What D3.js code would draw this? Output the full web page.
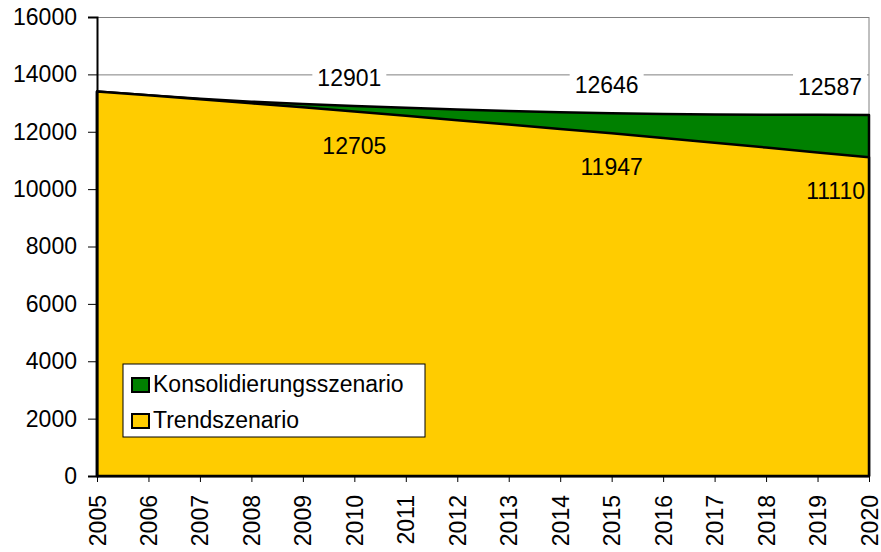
<!DOCTYPE html>
<html>
<head>
<meta charset="utf-8">
<script src="https://cdn.jsdelivr.net/npm/d3@7"></script>
<style>
	body { margin: 0; background: #fff; }
	svg { display: block; font-family: Arial, "Liberation Sans", sans-serif; }
	.axis text { font-size: 23px; fill: #000; }
	.axis path, .axis line { stroke: #000; }
	.grid line { stroke: #808080; stroke-width: 1; }
	.grid path { display: none; }
	.value { font-size: 23px; fill: #000; }
	.legend text { font-size: 23px; fill: #000; }
</style>
</head>
<body>
<div id="chart"></div>
<script>
let years		= ["2005", "2006", "2007", "2008", "2009", "2010", "2011", "2012", "2013", "2014", "2015", "2016", "2017", "2018", "2019", "2020"];
let konsol		= [13400, 13270, 13150, 13050, 12970, 12901, 12835, 12775, 12720, 12680, 12646, 12620, 12605, 12595, 12590, 12587];
let trend		= [13400, 13270, 13130, 12990, 12850, 12705, 12555, 12405, 12255, 12100, 11947, 11785, 11620, 11450, 11280, 11110];
let yTicks		= [0, 2000, 4000, 6000, 8000, 10000, 12000, 14000, 16000];
let labelYears	= ["2010", "2015", "2020"];
let seriesNames	= ["Konsolidierungsszenario", "Trendszenario"];
let colors		= ["#008000", "#ffcc00"];

let canvasWidth		= 881;
let canvasHeight	= 552;
let margin			= { top: 17, right: 12, bottom: 76, left: 97 };
let width			= canvasWidth - margin.left - margin.right;
let height			= canvasHeight - margin.top - margin.bottom;

let x	= d3.scalePoint().range([0, width]).domain(years);
let y	= d3.scaleLinear().range([height, 0]).domain([0, 16000]);

let svg = d3.select("#chart").append("svg")
	.attr("width", canvasWidth)
	.attr("height", canvasHeight)
	.append("g")
	.attr("transform", "translate(" + margin.left + "," + margin.top + ")");

// grid lines (only the top ones stay visible above the areas)
svg.append("g")
	.attr("class", "grid")
	.call(d3.axisLeft(y).tickValues(yTicks).tickSize(-width).tickFormat(""));

svg.append("line")
	.attr("x1", width).attr("x2", width)
	.attr("y1", 0).attr("y2", height)
	.attr("stroke", "#808080");

let area = (values) => d3.area()
	.x((o, i) => x(years[i]))
	.y0(height)
	.y1((o) => y(o))(values);

[konsol, trend].forEach((values, i) => {
	svg.append("path")
		.attr("d", area(values))
		.attr("fill", colors[i])
		.attr("stroke", "#000")
		.attr("stroke-width", 2.5)
		.attr("stroke-linejoin", "round");
});

svg.append("g")
	.attr("class", "y axis")
	.call(d3.axisLeft(y).tickValues(yTicks).tickSize(9).tickPadding(11).tickFormat(d3.format("d")))
	.call((g) => g.select(".domain").attr("stroke-width", 2));

svg.append("g")
	.attr("class", "x axis")
	.attr("transform", "translate(0," + height + ")")
	.call(d3.axisBottom(x).tickSize(6).tickSizeOuter(0))
	.call((g) => g.select(".domain").attr("stroke-width", 1.5))
	.selectAll("text")
		.attr("transform", "rotate(-90)")
		.attr("text-anchor", "end")
		.attr("x", -19)
		.attr("y", 0)
		.attr("dy", "0.35em");

// value labels
let last = years[years.length - 1];

labelYears.forEach((yr) => {
	let i		= years.indexOf(yr);
	let isLast	= yr === last;

	let top = svg.append("text")
		.attr("class", "value")
		.attr("x", x(yr) + (isLast ? -7 : -5))
		.attr("y", y(konsol[i]) - 20)
		.attr("text-anchor", isLast ? "end" : "middle")
		.text(konsol[i]);

	let box = top.node().getBBox();
	svg.insert("rect", () => top.node())
		.attr("x", box.x - 5).attr("y", box.y - 2)
		.attr("width", box.width + 10).attr("height", box.height + 4)
		.attr("fill", "#fff");

	svg.append("text")
		.attr("class", "value")
		.attr("x", x(yr) + (isLast ? -4 : 0))
		.attr("y", y(trend[i]) + 42)
		.attr("text-anchor", isLast ? "end" : "middle")
		.text(trend[i]);
});

// legend
let legend = svg.append("g")
	.attr("class", "legend")
	.attr("transform", "translate(26,347)");

legend.append("rect")
	.attr("width", 302).attr("height", 73)
	.attr("fill", "#fff")
	.attr("stroke", "#000")
	.attr("stroke-width", 1);

let rows = legend.selectAll(".row")
	.data(seriesNames)
	.enter().append("g")
		.attr("class", "row")
		.attr("transform", (o, i) => "translate(9," + (14 + i * 36) + ")");

rows.append("rect")
	.attr("width", 17).attr("height", 14)
	.attr("fill", (o, i) => colors[i])
	.attr("stroke", "#000")
	.attr("stroke-width", 2);

rows.append("text")
	.attr("x", 21)
	.attr("y", 14)
	.text((o) => o);
</script>
</body>
</html>
